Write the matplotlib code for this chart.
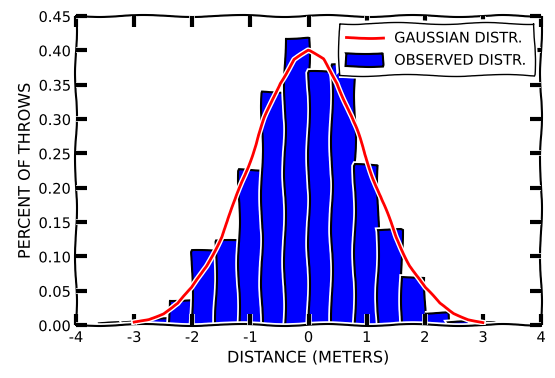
import matplotlib
matplotlib.use("Agg")
import matplotlib.pyplot as plt
import numpy as np

# histogram of observed throws (bin edges, width 0.4)
bin_edges = [-3.6, -3.2, -2.8, -2.4, -2.0, -1.6, -1.2, -0.8, -0.4, 0.0,
             0.4, 0.8, 1.2, 1.6, 2.0, 2.4, 2.8, 3.2]
observed = [0.003, 0.005, 0.009, 0.037, 0.108, 0.123, 0.226, 0.339, 0.418,
            0.369, 0.378, 0.233, 0.139, 0.070, 0.017, 0.004, 0.003]

# gaussian curve
gauss_x = [-3.0, -2.75, -2.5, -2.25, -2.0, -1.75, -1.5, -1.25, -1.0, -0.75, -0.5, -0.25, 0.0,
           0.25, 0.5, 0.75, 1.0, 1.25, 1.5, 1.75, 2.0, 2.25, 2.5, 2.75, 3.0]
gauss_y = [0.0044, 0.0091, 0.0175, 0.0317, 0.0540, 0.0863, 0.1295, 0.1826, 0.2420, 0.3011,
           0.3521, 0.3867, 0.3989, 0.3867, 0.3521, 0.3011, 0.2420, 0.1826, 0.1295, 0.0863,
           0.0540, 0.0317, 0.0175, 0.0091, 0.0044]

xticks = [-4, -3, -2, -1, 0, 1, 2, 3, 4]
yticks = [0.00, 0.05, 0.10, 0.15, 0.20, 0.25, 0.30, 0.35, 0.40, 0.45]

plt.xkcd()
plt.rcParams['font.family'] = ['DejaVu Sans']

fig = plt.figure(figsize=(5.55, 3.78), dpi=100)
ax = fig.add_axes([0.137, 0.140, 0.838, 0.818])
ax.set_axisbelow(False)

widths = np.diff(bin_edges)
line, = ax.plot(gauss_x, gauss_y, color='#ff0000', linewidth=2, zorder=3)
bars = ax.bar(bin_edges[:-1], observed, width=widths, align='edge', color='#0000ff',
              edgecolor='black', linewidth=1.5, zorder=2)

ax.set_xlim(-4, 4)
ax.set_ylim(0, 0.45)
ax.set_xticks(xticks)
ax.set_yticks(yticks)
ax.set_xticklabels([str(t) for t in xticks], fontsize=10.5)
ax.set_yticklabels(['%.2f' % t for t in yticks], fontsize=10.5)
ax.tick_params(axis='both', which='major', direction='in', length=8, width=3,
               left=True, right=True, top=True, bottom=True, color='black')

# tick marks lose their sketch wiggle (otherwise some vanish)
for t in ax.xaxis.get_major_ticks() + ax.yaxis.get_major_ticks():
    t.tick1line.set_sketch_params(None)
    t.tick2line.set_sketch_params(None)
    t.tick1line.set_clip_on(False)
    t.tick2line.set_clip_on(False)

ax.set_xlabel('DISTANCE (METERS)', fontsize=11.5)
ax.set_ylabel('PERCENT OF THROWS', fontsize=11.5)

ax.legend([line, bars], ['GAUSSIAN DISTR.', 'OBSERVED DISTR.'], loc='upper right',
          fontsize=10.5, fancybox=False, framealpha=1, edgecolor='black',
          handlelength=2.5, handleheight=1.0, borderpad=0.5)

fig.savefig('out.png', dpi=100)
